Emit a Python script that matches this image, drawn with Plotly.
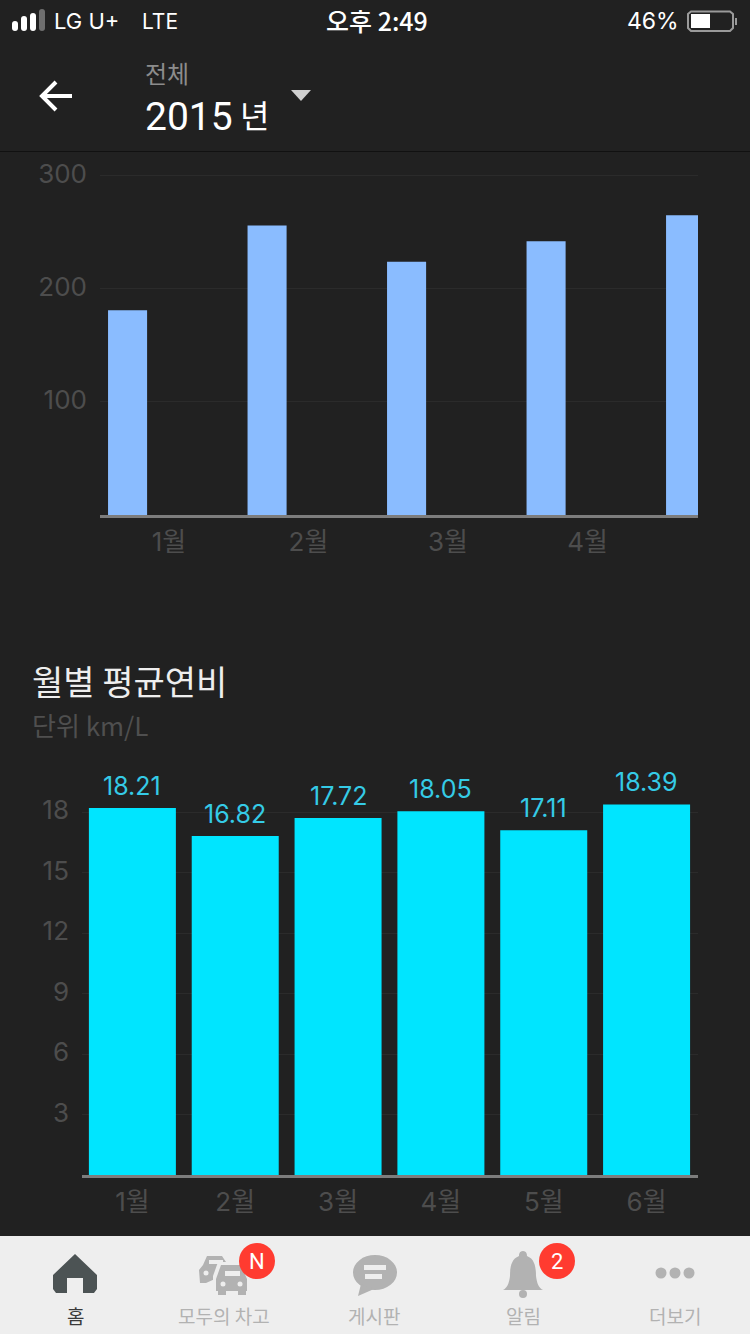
import re
import plotly.graph_objects as go
from plotly.subplots import make_subplots

# monthly totals, upper chart (5th bar runs off the edge in the app)
total_months = ["1월", "2월", "3월", "4월", "5월"]
total_values = [181, 256, 224, 242, 265]
total_ticks = [100, 200, 300]

# average mileage, lower chart
mileage_months = ["1월", "2월", "3월", "4월", "5월", "6월"]
mileage_values = [18.21, 16.82, 17.72, 18.05, 17.11, 18.39]
mileage_ticks = [3, 6, 9, 12, 15, 18]

W = 750
H = 1334
BG = "#212121"
FONT = "Inter, 'Noto Sans CJK KR', sans-serif"
KR = "'Noto Sans CJK KR', sans-serif"
TICK = "#4d4d4d"
GRID = "#2b2b2b"
AXIS = "#7d7d7d"
NAV = "#b2b2b2"
NAV_BG = "#eeeeee"


def px(v):
    return v / W


def py(v):
    return 1 - v / H


fig = make_subplots(rows=2, cols=1)

fig.add_trace(go.Bar(
    x=list(range(len(total_values))),
    y=total_values,
    width=0.28,
    offset=-0.437,
    marker=dict(color="#8abcff", line_width=0),
    showlegend=False,
), row=1, col=1)

fig.add_trace(go.Bar(
    x=mileage_months,
    y=mileage_values,
    marker=dict(color="#00e5ff", line_width=0),
    showlegend=False,
), row=2, col=1)

# value labels sit a fixed distance over each bar
for m, v in zip(mileage_months, mileage_values):
    fig.add_annotation(
        x=m, y=v, xref="x2", yref="y2", text=f"{v:.2f}", showarrow=False,
        yanchor="middle", yshift=22,
        font=dict(size=25, color="#35cbe6", family=FONT),
    )

layout_axis = dict(
    showline=True, linecolor=AXIS, linewidth=2.5, showgrid=False, zeroline=False,
    ticks="", tickfont=dict(size=26, color=TICK, family=FONT),
    ticklabelstandoff=2,
)
layout_yaxis = dict(
    showline=False, showgrid=True, gridcolor=GRID, gridwidth=1, zeroline=False,
    ticks="", tickfont=dict(size=26, color=TICK, family=FONT),
    ticklabelstandoff=12,
)

fig.update_xaxes(
    layout_axis, row=1, col=1,
    domain=[px(100), px(698)], range=[-0.4946, 3.792],
    tickvals=list(range(len(total_months))), ticktext=total_months,
)
fig.update_yaxes(
    layout_yaxis, row=1, col=1,
    domain=[py(515), py(152)], range=[0, 321], tickvals=total_ticks, ticklabelshift=-2,
)
fig.update_xaxes(
    layout_axis, row=2, col=1,
    domain=[px(82), px(698)], range=[-0.49, 5.5],
)
fig.update_yaxes(
    layout_yaxis, row=2, col=1,
    domain=[py(1175), py(772)], range=[0, 20], tickvals=mileage_ticks, ticklabelshift=-2,
)

shapes = []


def rect(x0, y0, x1, y1, color):
    shapes.append(dict(type="rect", xref="paper", yref="paper", x0=px(x0), x1=px(x1),
                       y0=py(y0), y1=py(y1), fillcolor=color, line_width=0))


def circle(cx, cy, r, color, ry=None):
    ry = ry or r
    shapes.append(dict(type="circle", xref="paper", yref="paper", x0=px(cx - r), x1=px(cx + r),
                       y0=py(cy - ry), y1=py(cy + ry), fillcolor=color, line_width=0))


def path(d, fill=None, line=None, width=0):
    # d is written in screen pixels, numbers alternate x and y
    count = [0]

    def conv(m):
        v = float(m.group())
        count[0] += 1
        return f"{px(v):.5f}" if count[0] % 2 else f"{py(v):.5f}"

    shapes.append(dict(type="path", xref="paper", yref="paper", path=re.sub(r"[\d.]+", conv, d),
                       fillcolor=fill, line=dict(color=line, width=width)))


def label(x, y, text, size, color, anchor="center", family=KR, weight=None):
    fig.add_annotation(
        x=px(x), y=py(y), xref="paper", yref="paper", text=text, showarrow=False,
        xanchor=anchor, yanchor="middle", borderpad=0,
        font=dict(size=size, color=color, family=family, weight=weight),
    )


# status bar
for bx, top, c in [(12, 22, "#fff"), (21, 17, "#fff"), (30, 14, "#fff"), (39, 10, "#6e6e6e")]:
    rect(bx, top + 2, bx + 6, 28, c)
    circle(bx + 3, top + 2, 3, c)
    circle(bx + 3, 28, 3, c)
label(53, 21, "LG U+", 22, "#ffffff", "left", FONT)
label(141, 21, "LTE", 21, "#ffffff", "left", FONT)
label(377, 20, "오후 2:49", 25, "#ffffff", family=KR, weight=500)
label(680, 21, "46%", 23, "#ffffff", "right", FONT)
path("M691 11.5 L730 11.5 L733 14 L733 28 L730 31 L691 31 L688 28 L688 14 Z", line="#9a9a9a", width=2)
rect(691, 14, 710, 28, "#ffffff")
rect(735, 18, 737, 25, "#9a9a9a")

# header
label(144, 73, "전체", 24, "#8c8c8c", "left")
label(144, 117, "2015", 39, "#ffffff", "left", "Roboto")
label(239, 114, "년", 32, "#ffffff", "left")
path("M291 90 L311 90 L301 101 Z", fill="#cfcfcf")
path("M72 96 L42 96 M56 82 L42 96 L56 110", line="#ffffff", width=4)
rect(0, 151, W, 152, "#111111")

# chart title
label(31, 680, "월별 평균연비", 34, "#eeeeee", "left")
label(31, 724, "단위 km/L", 26, "#4f4f4f", "left")

# bottom nav
rect(0, 1236, W, H, NAV_BG)
path("M75 1254 L97 1275 L97 1289 L94 1293 L83 1293 L83 1278 L67 1278 L67 1293 L56 1293 L53 1289 L53 1275 Z",
     fill="#4c5354")
# back car
path("M207 1256 L222 1256 L226 1262 L226 1274 L206 1283 L200 1283 L199 1270 L203 1265 Z", fill=NAV)
rect(209, 1260, 223, 1264, NAV_BG)
circle(206, 1273, 2.5, NAV_BG)
# front car with a light edge around it
path("M218 1262 L244 1262 L250 1276 L250 1298 L213 1298 L213 1276 Z", fill=NAV_BG)
path("M221 1265 L241 1265 L247 1279 L247 1291 L216 1291 L216 1279 Z", fill=NAV)
rect(218, 1288, 226, 1295, NAV)
rect(238, 1288, 246, 1295, NAV)
rect(225, 1271, 240, 1276, NAV_BG)
circle(223, 1284, 2.5, NAV_BG)
circle(240, 1284, 2.5, NAV_BG)
circle(257, 1261, 18, "#ff3b30")
label(257, 1261, "N", 22, "#ffffff", family="Roboto")
# bubble
circle(375, 1272.5, 22, NAV, ry=17.5)
path("M361 1284 L358 1296 L374 1289 Z", fill=NAV)
rect(364, 1265, 386, 1270, NAV_BG)
rect(365, 1274, 382, 1279, NAV_BG)
# bell
path("M523 1251 C527 1251 527 1255 527 1256 C535 1259 536 1268 536 1276 C537 1284 539 1288 543 1290 "
     "L503 1290 C507 1288 509 1284 510 1276 C510 1268 511 1259 519 1256 C519 1255 519 1251 523 1251 Z", fill=NAV)
circle(523, 1294, 4, NAV)
circle(557, 1261, 18, "#ff3b30")
label(557, 1261, "2", 22, "#ffffff", family="Roboto")
# more
for dx in [661, 675, 689]:
    circle(dx, 1273, 5.5, NAV)

label(75, 1315, "홈", 19, "#3a3a3a")
label(224, 1315, "모두의 차고", 19, NAV)
label(374, 1315, "게시판", 19, NAV)
label(523, 1315, "알림", 19, NAV)
label(675, 1315, "더보기", 19, NAV)

fig.update_layout(
    width=W,
    height=H,
    margin=dict(l=0, r=0, t=0, b=0),
    paper_bgcolor=BG,
    plot_bgcolor=BG,
    bargap=0.154,
    shapes=shapes,
    font_family=FONT,
)

fig.write_html("out.html", post_script="document.body.style.margin='0';", config=dict(displayModeBar=False))
